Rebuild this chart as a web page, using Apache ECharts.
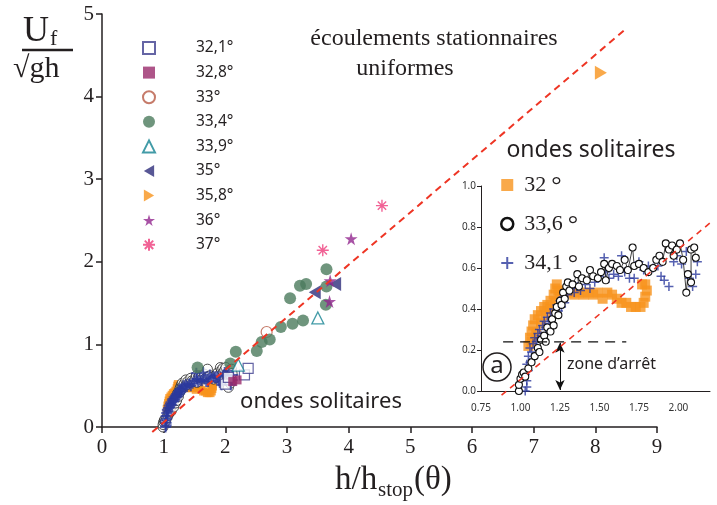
<!DOCTYPE html>
<html><head><meta charset="utf-8">
<script src="https://cdn.jsdelivr.net/npm/echarts@6/dist/echarts.min.js"></script>
<style>html,body{margin:0;padding:0;background:#fff}#c{width:717px;height:505px}</style>
</head><body><div id="c"></div><script>
// ---- main plot series (x = h/hstop, y = Uf/sqrt(gh)) ----
const s321 = [[2.00,0.52],[2.05,0.60],[2.31,0.63],[2.37,0.71]];
const s328 = [[2.19,0.57],[2.12,0.55]];
const s33  = [[2.67,1.15]];
const s334 = [[1.55,0.72],[2.08,0.77],[2.17,0.91],[2.51,0.92],[2.59,1.03],[2.72,1.06],[2.90,1.21],[3.09,1.25],[3.26,1.29],[3.05,1.56],[3.21,1.71],[3.31,1.73],[3.64,1.91],[3.64,1.70],[3.63,1.48]];
const s339 = [[2.21,0.75],[3.50,1.32]];
const s35  = [[3.45,1.63],[3.78,1.73]];
const s358 = [[8.09,4.29]];
const s36  = [[4.04,2.28],[3.70,1.77],[3.69,1.52]];
const s37  = [[4.54,2.68],[3.58,2.14]];
const mainNames = ['32,1°','32,8°','33°','33,4°','33,9°','35°','35,8°','36°','37°'];
// dashed fit line end points
const fitX = [0.815, 8.48];
const fitY = [-0.06, 4.81];
// ---- inset data (solitary waves) ----
const a32 = [[1.05,0.22],[1.07,0.24],[1.06,0.26],[1.07,0.29],[1.08,0.32],[1.10,0.28],[1.09,0.35],[1.11,0.37],[1.13,0.33],[1.13,0.39],[1.15,0.41],[1.16,0.37],[1.17,0.42],[1.19,0.40],[1.19,0.44],[1.21,0.47],[1.22,0.43],[1.22,0.50],[1.23,0.52],[1.24,0.49],[1.25,0.46],[1.27,0.47],[1.29,0.49],[1.31,0.48],[1.34,0.47],[1.37,0.48],[1.40,0.47],[1.43,0.48],[1.46,0.47],[1.49,0.48],[1.52,0.45],[1.55,0.48],[1.58,0.47],[1.61,0.45],[1.64,0.43],[1.67,0.43],[1.70,0.41],[1.73,0.41],[1.76,0.41],[1.78,0.43],[1.79,0.46],[1.80,0.49],[1.79,0.52],[1.77,0.52]];
const a336 = [[0.99,0.00],[0.99,0.03],[1.00,0.06],[1.01,0.08],[1.02,0.09],[1.03,0.07],[1.05,0.11],[1.07,0.14],[1.09,0.17],[1.11,0.21],[1.12,0.19],[1.13,0.25],[1.15,0.27],[1.16,0.24],[1.17,0.31],[1.19,0.29],[1.20,0.35],[1.21,0.32],[1.22,0.38],[1.23,0.41],[1.24,0.37],[1.25,0.44],[1.26,0.42],[1.27,0.48],[1.28,0.45],[1.29,0.51],[1.30,0.53],[1.31,0.49],[1.33,0.52],[1.36,0.57],[1.37,0.51],[1.39,0.55],[1.42,0.54],[1.44,0.59],[1.46,0.56],[1.49,0.55],[1.51,0.58],[1.53,0.62],[1.54,0.54],[1.56,0.60],[1.58,0.62],[1.61,0.61],[1.63,0.59],[1.66,0.64],[1.68,0.59],[1.71,0.70],[1.72,0.61],[1.75,0.62],[1.78,0.60],[1.81,0.58],[1.84,0.60],[1.86,0.64],[1.88,0.66],[1.90,0.63],[1.92,0.72],[1.94,0.69],[1.96,0.71],[1.97,0.66],[1.99,0.69],[2.01,0.72],[2.03,0.64],[2.05,0.48],[2.06,0.57],[2.08,0.53],[2.08,0.69],[2.10,0.70],[2.11,0.65]];
const a341 = [[1.03,0.00],[1.04,0.02],[1.04,0.05],[1.03,0.08],[1.05,0.10],[1.04,0.13],[1.06,0.14],[1.05,0.17],[1.07,0.19],[1.06,0.21],[1.08,0.23],[1.09,0.26],[1.10,0.24],[1.11,0.28],[1.12,0.30],[1.13,0.27],[1.14,0.32],[1.15,0.34],[1.16,0.31],[1.17,0.36],[1.18,0.33],[1.19,0.38],[1.20,0.36],[1.21,0.40],[1.22,0.37],[1.23,0.42],[1.24,0.39],[1.25,0.44],[1.26,0.41],[1.27,0.46],[1.28,0.43],[1.30,0.47],[1.32,0.50],[1.34,0.48],[1.36,0.51],[1.38,0.49],[1.41,0.52],[1.44,0.50],[1.47,0.53],[1.50,0.56],[1.53,0.65],[1.54,0.58],[1.56,0.55],[1.59,0.57],[1.62,0.56],[1.64,0.66],[1.66,0.58],[1.69,0.55],[1.72,0.55],[1.75,0.63],[1.78,0.59],[1.81,0.61],[1.84,0.60],[1.87,0.61],[1.89,0.56],[1.91,0.54],[1.94,0.51],[1.97,0.63],[1.99,0.66],[2.02,0.62],[2.05,0.68],[2.07,0.55],[2.09,0.51],[2.11,0.57],[2.12,0.63]];
const insetNames = ['32°','33,6°','34,1°'];
const insetFitX = [0.88, 2.24];
const insetFitY = [-0.02, 0.845];
const zoneX = [0.89, 1.67];
const zoneY = [0.24, 0.24];
const arrowX = 1.25;
const arrowY = [0.235, 0.005];

const zip = (xs, ys) => xs.map((x, i) => [x, ys[i]]);
const INK = '#231f20';
const SERIF = '"Liberation Serif", "DejaVu Serif", serif';
const SANS = '"Noto Sans", "Open Sans", sans-serif';
const STAR = 'path://M50,0 L61,35 L98,35 L68,57 L79,91 L50,70 L21,91 L32,57 L2,35 L39,35 Z';
const AST = 'path://M10,0 L10,20 M0,10 L20,10 M3,3 L17,17 M17,3 L3,17';
const PLUS = 'path://M5,0 L5,10 M0,5 L10,5';
const TRI_L = 'path://M12,0 L12,14 L0,7 Z';
const TRI_R = 'path://M0,0 L0,14 L12,7 Z';

const chart = echarts.init(document.getElementById('c'), null, {renderer: 'canvas'});
const sc = (name, data, symbol, size, style, extra) => Object.assign({
  type: 'scatter', name, data, symbol, symbolSize: size, itemStyle: style,
  xAxisIndex: 0, yAxisIndex: 0, emphasis: {disabled: true}, animation: false
}, extra || {});

const option = {
  animation: false,
  grid: [
    {left: 102, top: 14, right: 60, bottom: 78},
    {left: 481, top: 186, width: 229, height: 205}
  ],
  xAxis: [
    {type: 'value', gridIndex: 0, min: 0, max: 9, interval: 1, splitLine: {show: false},
     axisLine: {lineStyle: {color: INK, width: 1.5}}, axisTick: {length: 6, lineStyle: {color: INK, width: 1.5}},
     axisLabel: {color: INK, fontFamily: SERIF, fontSize: 21, margin: 10}},
    {type: 'value', gridIndex: 1, min: 0.75, max: 2.2, interval: 0.25, splitLine: {show: false},
     axisLine: {lineStyle: {color: INK, width: 1}}, axisTick: {show: false},
     axisLabel: {color: '#333', fontFamily: SANS, fontSize: 10, margin: 12, showMaxLabel: false,
                 formatter: v => v.toFixed(2)}}
  ],
  yAxis: [
    {type: 'value', gridIndex: 0, min: 0, max: 5, interval: 1, splitLine: {show: false},
     axisLine: {lineStyle: {color: INK, width: 1.5}}, axisTick: {length: 6, lineStyle: {color: INK, width: 1.5}},
     axisLabel: {color: INK, fontFamily: SERIF, fontSize: 21, margin: 8}},
    {type: 'value', gridIndex: 1, min: 0, max: 1, interval: 0.2, splitLine: {show: false},
     axisLine: {lineStyle: {color: INK, width: 1}}, axisTick: {length: 4, lineStyle: {color: INK}},
     axisLabel: {color: '#333', fontFamily: SANS, fontSize: 10, margin: 5, formatter: v => v.toFixed(1)}}
  ],
  legend: [
    {data: mainNames, orient: 'vertical', left: 137, top: 34, itemWidth: 12, itemHeight: 12, itemGap: 6.6,
     selectedMode: false, textStyle: {color: INK, fontFamily: SANS, fontSize: 15.5, lineHeight: 18,
       rich: {s: {width: 36}}},
     formatter: n => '{s| }' + n},
    {data: [
       {name: '32°', icon: 'rect', itemStyle: {color: '#f7941d'}},
       {name: '33,6°', icon: 'circle', itemStyle: {color: '#fff', borderColor: '#111', borderWidth: 2.5}},
       {name: '34,1°'}
     ], orient: 'vertical', left: 495, top: 168, itemWidth: 12, itemHeight: 12, itemGap: 13,
     selectedMode: false, z: 20,
     textStyle: {color: INK, fontFamily: SERIF, fontSize: 22, lineHeight: 24,
       rich: {s: {width: 6, lineHeight: 24}, n: {fontFamily: SERIF, fontSize: 22, lineHeight: 24, color: INK},
              d: {fontFamily: SERIF, fontSize: 26, lineHeight: 24, color: INK, verticalAlign: 'top', padding: [0, 0, 0, 5]}}},
     formatter: n => '{s| }{n|' + n.replace('°', '') + '}{d|°}'}
  ],
  series: [
    // main cluster (same solitary-wave data as inset)
    sc('m32', a32, 'rect', 8, {color: '#f7941d'}),
    sc('m336', a336, 'circle', 10, {color: '#fff', borderColor: '#222', borderWidth: 1}),
    sc('m341', a341, PLUS, 11, {color: '#2c3a9e', borderColor: '#2c3a9e', borderWidth: 2}),
    // legend series
    sc(mainNames[0], s321, 'rect', 10, {color: '#fff', borderColor: '#3f3f8f', borderWidth: 1.2}),
    sc(mainNames[1], s328, 'rect', 9, {color: '#9a2b6c'}),
    sc(mainNames[2], s33, 'circle', 11, {color: '#fff', borderColor: '#b85a45', borderWidth: 1.2}),
    sc(mainNames[3], s334, 'circle', 12, {color: '#4b7b5c'}),
    sc(mainNames[4], s339, 'triangle', 12, {color: '#fff', borderColor: '#138291', borderWidth: 1.3}),
    sc(mainNames[5], s35, TRI_L, [12, 14], {color: '#2e2d7a'}),
    sc(mainNames[6], s358, TRI_R, [12, 14], {color: '#f7941d'}),
    sc(mainNames[7], s36, STAR, 13, {color: '#92278f'}),
    sc(mainNames[8], s37, AST, 12, {color: '#ee3b7b', borderColor: '#ee3b7b', borderWidth: 1.4}),
    {type: 'line', name: 'fit', data: zip(fitX, fitY), symbol: 'none', xAxisIndex: 0, yAxisIndex: 0,
     lineStyle: {color: '#ee3524', width: 2, type: [7, 5]}, z: 10, silent: true, clip: false},
    // inset
    sc(insetNames[0], a32, 'rect', 10, {color: '#f7941d'}, {xAxisIndex: 1, yAxisIndex: 1}),
    {type: 'line', name: insetNames[1], data: a336, xAxisIndex: 1, yAxisIndex: 1, symbol: 'circle', symbolSize: 7,
     showSymbol: true, itemStyle: {color: '#fff', borderColor: '#111', borderWidth: 1.1},
     lineStyle: {color: '#111', width: 0.8}, emphasis: {disabled: true}, silent: true},
    sc(insetNames[2], a341, PLUS, 9, {color: '#2c3a9e', borderColor: '#2c3a9e', borderWidth: 1.5}, {xAxisIndex: 1, yAxisIndex: 1}),
    {type: 'line', name: 'insetFit', data: zip(insetFitX, insetFitY), symbol: 'none', xAxisIndex: 1, yAxisIndex: 1,
     lineStyle: {color: '#ee3524', width: 1.6, type: [6, 5]}, z: 10, silent: true, clip: false},
    {type: 'line', name: 'zone', data: zip(zoneX, zoneY), symbol: 'none', xAxisIndex: 1, yAxisIndex: 1,
     lineStyle: {color: '#111', width: 1.2, type: [10, 7]}, z: 9, silent: true, clip: false,
     markLine: {silent: true, symbol: ['arrow', 'arrow'], symbolSize: [7, 10], label: {show: false},
       lineStyle: {color: '#111', width: 1, type: 'solid'},
       data: [[{coord: [arrowX, arrowY[0]]}, {coord: [arrowX, arrowY[1]]}]]}}
  ],
  graphic: [
    {type: 'text', x: 23, y: 32, style: {text: 'U', font: '36px ' + SERIF, fill: INK, verticalAlign: 'middle'}},
    {type: 'text', x: 50, y: 39, style: {text: 'f', font: '22px ' + SERIF, fill: INK, verticalAlign: 'middle'}},
    {type: 'line', shape: {x1: 22, y1: 50, x2: 73, y2: 50}, style: {stroke: INK, lineWidth: 2.5}},
    {type: 'text', x: 13, y: 69, style: {text: '√gh', font: '30px ' + SERIF, fill: INK, verticalAlign: 'middle'}},
    {type: 'text', x: 335, y: 480, style: {text: 'h/h', font: '33px ' + SERIF, fill: INK, verticalAlign: 'middle'}},
    {type: 'text', x: 378, y: 490, style: {text: 'stop', font: '21px ' + SERIF, fill: INK, verticalAlign: 'middle'}},
    {type: 'text', x: 414, y: 480, style: {text: '(θ)', font: '33px ' + SERIF, fill: INK, verticalAlign: 'middle'}},
    {type: 'text', x: 434, y: 39, style: {text: 'écoulements stationnaires', font: '24px ' + SERIF, fill: INK, align: 'center', verticalAlign: 'middle'}},
    {type: 'text', x: 405, y: 69, style: {text: 'uniformes', font: '24px ' + SERIF, fill: INK, align: 'center', verticalAlign: 'middle'}},
    {type: 'text', x: 321, y: 402, style: {text: 'ondes solitaires', font: '22px ' + SANS, fill: INK, align: 'center', verticalAlign: 'middle'}},
    {type: 'text', x: 591, y: 150, style: {text: 'ondes solitaires', font: '23px ' + SANS, fill: INK, align: 'center', verticalAlign: 'middle'}},
    {type: 'text', x: 567, y: 364, style: {text: 'zone d’arrêt', font: '16px ' + SANS, fill: INK, verticalAlign: 'middle'}},
    {type: 'circle', shape: {cx: 497, cy: 367, r: 14}, style: {fill: '#fff', stroke: INK, lineWidth: 1.5}, z: 20},
    {type: 'text', x: 497, y: 366, z: 21, style: {text: 'a', font: '24px ' + SANS, fill: INK, align: 'center', verticalAlign: 'middle'}}
  ]
};
chart.setOption(option);
</script></body></html>
